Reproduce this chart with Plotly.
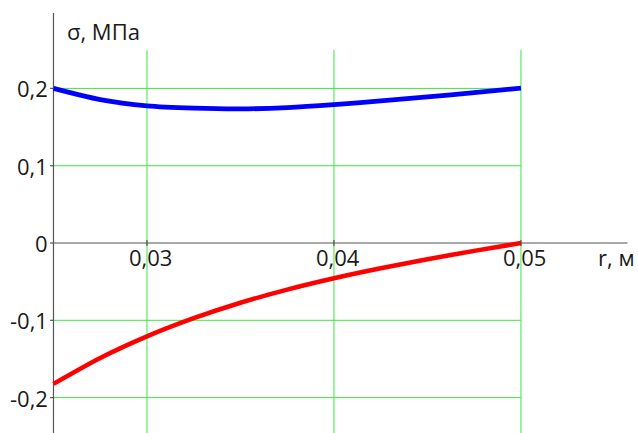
import plotly.graph_objects as go

# ---- data ----
r_vals = [0.025, 0.0275, 0.03, 0.0325, 0.035, 0.0375, 0.04, 0.0425, 0.045, 0.0475, 0.05]
sigma_blue = [0.200, 0.1855, 0.1775, 0.1745, 0.1735, 0.1752, 0.1790, 0.1838, 0.1890, 0.1946, 0.2005]
sigma_red = [-0.1823, -0.1488, -0.1208, -0.0973, -0.0773, -0.0603, -0.0456, -0.0327, -0.0210, -0.0102, 0.0]

x_ticks = [0.03, 0.04, 0.05]
x_tick_text = ["0,03", "0,04", "0,05"]
y_ticks = [0.2, 0.1, 0.0, -0.1, -0.2]
y_tick_text = ["0,2", "0,1", "0", "-0,1", "-0,2"]
y_grid = [0.2, 0.1, -0.1, -0.2]
x_label = "r, м"
y_label = "σ, МПа"

X_MIN, X_MAX = 0.02214, 0.05626
Y_MIN, Y_MAX = -0.2458, 0.3144
X0 = 0.025
GRID = "#3ce83c"
AXIS = "#555555"
FONT = dict(family="Open Sans, Noto Sans, sans-serif", size=22, color="#1a1a1a")

fig = go.Figure()

shapes = []
for xv in x_ticks:
    shapes.append(dict(type="line", xref="x", yref="y", x0=xv, x1=xv, y0=Y_MIN - 0.05, y1=0.25,
                       line=dict(color=GRID, width=1), layer="below"))
for yv in y_grid:
    shapes.append(dict(type="line", xref="x", yref="y", x0=X0, x1=0.05, y0=yv, y1=yv,
                       line=dict(color=GRID, width=1), layer="below"))
shapes.append(dict(type="line", xref="x", yref="y", x0=X0, x1=X0, y0=Y_MIN - 0.05, y1=0.2975,
                   line=dict(color=AXIS, width=1.2), layer="below"))
shapes.append(dict(type="line", xref="x", yref="y", x0=X0, x1=0.0557, y0=0, y1=0,
                   line=dict(color=AXIS, width=1.2), layer="below"))
for yv in y_ticks:
    shapes.append(dict(type="line", xref="x", yref="y", x0=X0 - 0.00018, x1=X0, y0=yv, y1=yv,
                       line=dict(color=AXIS, width=1.2), layer="below"))
for xv in x_ticks:
    shapes.append(dict(type="line", xref="x", yref="y", x0=xv, x1=xv, y0=-0.004, y1=0.004,
                       line=dict(color=AXIS, width=1.2), layer="below"))

fig.add_trace(go.Scatter(x=r_vals, y=sigma_blue, mode="lines",
                         line=dict(color="#0000ff", width=4.8, shape="spline", smoothing=0.8),
                         hoverinfo="skip", showlegend=False))
fig.add_trace(go.Scatter(x=r_vals, y=sigma_red, mode="lines",
                         line=dict(color="#ff0000", width=4.5, shape="spline", smoothing=0.8),
                         hoverinfo="skip", showlegend=False))

annotations = []
for yv, t in zip(y_ticks, y_tick_text):
    annotations.append(dict(x=X0, y=yv, xref="x", yref="y", text=t, showarrow=False,
                            xanchor="right", yanchor="middle", xshift=-3, font=FONT))
for xv, t in zip(x_ticks, x_tick_text):
    annotations.append(dict(x=xv, y=0, xref="x", yref="y", text=t, showarrow=False,
                            xanchor="center", yanchor="middle", xshift=4, yshift=-14, font=FONT))
annotations.append(dict(x=0.05403, y=0, xref="x", yref="y", text=x_label, showarrow=False,
                        xanchor="left", yanchor="middle", yshift=-14, font=FONT))
annotations.append(dict(x=0.02561, y=0.274, xref="x", yref="y", text=y_label, showarrow=False,
                        xanchor="left", yanchor="middle", font=FONT))

fig.update_layout(
    width=638, height=433,
    margin=dict(l=0, r=0, t=0, b=0),
    paper_bgcolor="white", plot_bgcolor="white",
    xaxis=dict(range=[X_MIN, X_MAX], visible=False, fixedrange=True),
    yaxis=dict(range=[Y_MIN, Y_MAX], visible=False, fixedrange=True),
    shapes=shapes, annotations=annotations,
)

fig.write_html("out.html", config={"displayModeBar": False},
               post_script="document.body.style.margin='0';document.body.style.overflow='hidden';")
